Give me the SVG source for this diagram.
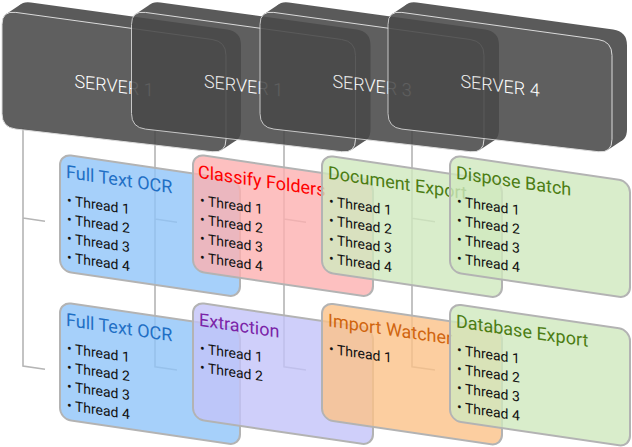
<svg xmlns="http://www.w3.org/2000/svg" width="632" height="447" viewBox="0 0 632 447">
<style>
.srv-side{fill:#444444}
.srv-front{fill:#494949;stroke:#d6d6d6;stroke-width:1}
.srv-label{font-family:Roboto,"Liberation Sans",sans-serif;font-weight:300;font-size:18px;fill:#ffffff;text-anchor:middle}
.conn path{fill:none;stroke:#b5b5b5;stroke-width:1.6}
.card rect{stroke:#b3b3b3;stroke-width:2;fill-opacity:0.8}
.title{font-family:Roboto,"Liberation Sans",sans-serif;font-size:18px}
.item{font-family:Roboto,"Liberation Sans",sans-serif;font-size:14px;fill:#111111}
</style>
<defs>
<path id="front" d="M0,24.5 Q0,10.5 13.87,12.41 L210.13,39.49 Q224,41.4 224,55.4 L224,139.3 Q224,153.3 210.09,151.7 L13.91,129.1 Q0,127.5 0,113.5 Z"/>
</defs>

<g id="connectors" class="conn">
<path d="M23,128 V366 L45,369.3 M23,218 L45,221.3"/>
<path d="M155,128 V366.7 L177,370 M155,219 L177,222.3"/>
<path d="M284,128 V366.7 L306,370 M284,219 L306,222.3"/>
<path d="M412,128 V366.7 L435,370 M412,218.3 L435,221.7"/>
</g>

<g id="server1" opacity="0.88" transform="translate(2,0)">
<use href="#front" x="15" y="-10" class="srv-side"/>
<polygon class="srv-side" points="3.47,14.48 18.47,4.48 235.5,139.4 220.5,149.4"/>
<use href="#front" class="srv-front"/>
<text class="srv-label" transform="matrix(1 0.12 0 1 112 92)">SERVER 1</text>
</g>
<g id="server2" opacity="0.88" transform="translate(131.5,0)">
<use href="#front" x="15" y="-10" class="srv-side"/>
<polygon class="srv-side" points="3.47,14.48 18.47,4.48 235.5,139.4 220.5,149.4"/>
<use href="#front" class="srv-front"/>
<text class="srv-label" transform="matrix(1 0.12 0 1 112 92)">SERVER 1</text>
</g>
<g id="server3" opacity="0.88" transform="translate(260,0)">
<use href="#front" x="15" y="-10" class="srv-side"/>
<polygon class="srv-side" points="3.47,14.48 18.47,4.48 235.5,139.4 220.5,149.4"/>
<use href="#front" class="srv-front"/>
<text class="srv-label" transform="matrix(1 0.12 0 1 112 92)">SERVER 3</text>
</g>
<g id="server4" opacity="0.88" transform="translate(388,0)">
<use href="#front" x="15" y="-10" class="srv-side"/>
<polygon class="srv-side" points="3.47,14.48 18.47,4.48 235.5,139.4 220.5,149.4"/>
<use href="#front" class="srv-front"/>
<text class="srv-label" transform="matrix(1 0.12 0 1 112 92)">SERVER 4</text>
</g>

<g id="card-fulltextocr-1" class="card" transform="matrix(1 0.147 0 1 60 154)">
<rect width="180" height="117" rx="11" fill="#90c4f9"/>
<text class="title" x="6" y="23" fill="#1f6fc5">Full Text OCR</text>
<text class="item" x="7" y="50">• Thread 1</text>
<text class="item" x="7" y="69">• Thread 2</text>
<text class="item" x="7" y="88">• Thread 3</text>
<text class="item" x="7" y="107">• Thread 4</text>
</g>
<g id="card-classifyfolders" class="card" transform="matrix(1 0.147 0 1 193 154)">
<rect width="180" height="117" rx="11" fill="#fcb0b0"/>
<text class="title" x="5" y="23" fill="#ff0000">Classify Folders</text>
<text class="item" x="7" y="50">• Thread 1</text>
<text class="item" x="7" y="69">• Thread 2</text>
<text class="item" x="7" y="88">• Thread 3</text>
<text class="item" x="7" y="107">• Thread 4</text>
</g>
<g id="card-documentexport" class="card" transform="matrix(1 0.147 0 1 322 155)">
<rect width="180" height="117" rx="11" fill="#cfe8be"/>
<text class="title" x="6" y="23" fill="#4c7d14">Document Export</text>
<text class="item" x="7" y="50">• Thread 1</text>
<text class="item" x="7" y="69">• Thread 2</text>
<text class="item" x="7" y="88">• Thread 3</text>
<text class="item" x="7" y="107">• Thread 4</text>
</g>
<g id="card-disposebatch" class="card" transform="matrix(1 0.147 0 1 450 155)">
<rect width="180" height="117" rx="11" fill="#cfe8be"/>
<text class="title" x="6" y="23" fill="#4c7d14">Dispose Batch</text>
<text class="item" x="7" y="50">• Thread 1</text>
<text class="item" x="7" y="69">• Thread 2</text>
<text class="item" x="7" y="88">• Thread 3</text>
<text class="item" x="7" y="107">• Thread 4</text>
</g>

<g id="card-fulltextocr-2" class="card" transform="matrix(1 0.147 0 1 60 302)">
<rect width="180" height="117" rx="11" fill="#90c4f9"/>
<text class="title" x="6" y="23" fill="#1f6fc5">Full Text OCR</text>
<text class="item" x="7" y="50">• Thread 1</text>
<text class="item" x="7" y="69">• Thread 2</text>
<text class="item" x="7" y="88">• Thread 3</text>
<text class="item" x="7" y="107">• Thread 4</text>
</g>
<g id="card-extraction" class="card" transform="matrix(1 0.147 0 1 193 302)">
<rect width="180" height="117" rx="11" fill="#c3c3f9"/>
<text class="title" x="6" y="23" fill="#7b24a8">Extraction</text>
<text class="item" x="7" y="50">• Thread 1</text>
<text class="item" x="7" y="69">• Thread 2</text>
</g>
<g id="card-importwatcher" class="card" transform="matrix(1 0.147 0 1 322 302.5)">
<rect width="180" height="117" rx="11" fill="#fbc288"/>
<text class="title" x="6" y="23" fill="#d0650f">Import Watcher</text>
<text class="item" x="7" y="50">• Thread 1</text>
</g>
<g id="card-databaseexport" class="card" transform="matrix(1 0.147 0 1 450 303.5)">
<rect width="180" height="117" rx="11" fill="#cfe8be"/>
<text class="title" x="6" y="23" fill="#4c7d14">Database Export</text>
<text class="item" x="7" y="50">• Thread 1</text>
<text class="item" x="7" y="69">• Thread 2</text>
<text class="item" x="7" y="88">• Thread 3</text>
<text class="item" x="7" y="107">• Thread 4</text>
</g>
</svg>
